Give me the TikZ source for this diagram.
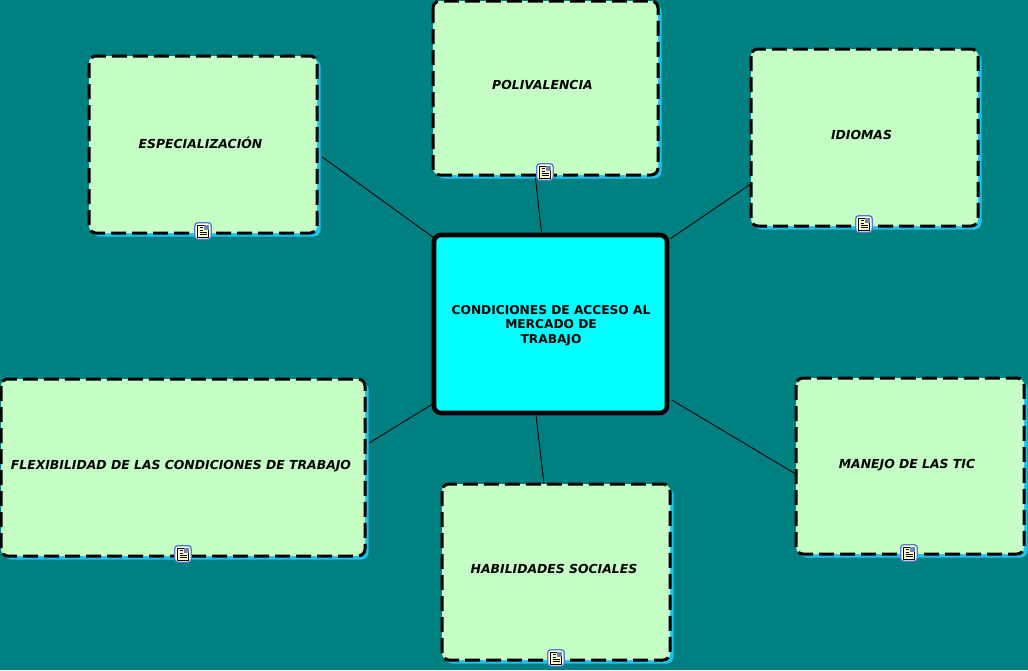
\documentclass[tikz,border=0pt]{standalone}
\usepackage{fontspec}
\setmainfont{DejaVu Sans}
\definecolor{bgteal}{HTML}{008080}
\definecolor{boxgreen}{HTML}{C6FFC6}
\definecolor{shadowblue}{HTML}{19C5F0}
\definecolor{mainshadow}{HTML}{3366CC}
\definecolor{maincyan}{HTML}{00FFFF}
\definecolor{iconblue}{HTML}{5078C8}
\definecolor{iconpaper}{HTML}{FFFFC8}
\definecolor{iconpic}{HTML}{7088A8}
\tikzset{
  x=1pt,y=-1pt,
  topicbox/.style={draw=none,inner sep=0pt},
  link/.style={draw=black,line width=0.9pt},
  toplabel/.style={font=\bfseries\itshape\fontsize{12.4}{14}\selectfont,text=black,align=center},
  mainlabel/.style={font=\bfseries\fontsize{12.2}{14.5}\selectfont,text=black,align=center},
}
\newcommand{\topicrect}[5]{%
  \fill[shadowblue,rounded corners=7pt] (#2+3.5,#3+3.5) rectangle (#4+3.5,#5+3.5);
  \fill[boxgreen,rounded corners=7pt] (#2,#3) rectangle (#4,#5);
  \draw[black,line width=3pt,rounded corners=7pt,dash pattern=on 15pt off 6pt] (#2,#3) rectangle (#4,#5);
  \node[topicbox,minimum width={#4-#2},minimum height={#5-#3}] (#1) at ({(#2+#4)/2},{(#3+#5)/2}) {};
}
\newcommand{\noteicon}[3]{%
  \node[inner sep=0pt,minimum size=16.5pt,draw=iconblue,fill=white,line width=1.3pt,rounded corners=3pt] (#1) at (#2,#3) {};
  \fill[iconpaper,draw=black,line width=0.8pt] (#2-5.5,#3-6) rectangle (#2+5.5,#3+6);
  \fill[iconpic] (#2+0.5,#3-6) rectangle (#2+5.5,#3-1.5);
  \foreach \yy in {-3.5,-1,1.5,3.5}{\draw[black,line width=0.8pt] (#2-3.5,#3+\yy) -- (#2+\ifdim\yy pt<-0.5pt 0\else 3.5\fi,#3+\yy);}
}
\begin{document}
\begin{tikzpicture}
\useasboundingbox (0,0) rectangle (1028,670);
\fill[bgteal] (0,0) rectangle (1028,670);

\topicrect{espec}{89}{56}{317}{233}
\topicrect{poli}{433}{1}{658}{175}
\topicrect{idiomas}{751}{49}{978}{226}
\topicrect{flex}{1}{379}{365}{556}
\topicrect{habil}{442}{484}{670}{660}
\topicrect{manejo}{796}{378}{1024}{554}

\fill[mainshadow,rounded corners=7pt] (437,238) rectangle (669.5,415.5);
\node[draw=black,fill=maincyan,line width=4.6pt,rounded corners=7pt,minimum width=233pt,minimum height=178pt,inner sep=0pt] (main) at (550.5,324) {};

\draw[link] ([xshift=5pt,yshift=-12.5pt]espec.east) -- ([xshift=2pt,yshift=-5pt]main.north west);
\draw[link] ([xshift=-10pt,yshift=-3pt]poli.south) -- ([xshift=-9pt]main.north);
\draw[link] ([yshift=-46.5pt]idiomas.west) -- ([xshift=1pt,yshift=-6pt]main.north east);
\draw[link] ([xshift=4pt,yshift=24.5pt]flex.east) -- ([xshift=2pt,yshift=12pt]main.south west);
\draw[link] ([xshift=-14.5pt]main.south) -- ([xshift=-12pt]habil.north);
\draw[link] ([xshift=3pt,yshift=15pt]main.south east) -- ([yshift=-8pt]manejo.west);

\node[toplabel] (tespec) at (200.5,142.5) {ESPECIALIZACIÓN};
\node[toplabel] (tpoli) at (542.5,84.5) {POLIVALENCIA};
\node[toplabel] (tidiomas) at (861.5,134.5) {IDIOMAS};
\node[toplabel] (tflex) at (181,466) {FLEXIBILIDAD DE LAS CONDICIONES DE TRABAJO};
\node[toplabel] (thabil) at (554,568.5) {HABILIDADES SOCIALES};
\node[toplabel] (tmanejo) at (907,465) {MANEJO DE LAS TIC};
\node[mainlabel] (tmain) at (551,325.5) {CONDICIONES DE ACCESO AL\\MERCADO DE\\TRABAJO};

\noteicon{ia}{203}{231}
\noteicon{ib}{545}{172}
\noteicon{ic}{864}{224}
\noteicon{id}{183}{554}
\noteicon{ie}{556}{658}
\noteicon{if}{909}{553}
\end{tikzpicture}
\end{document}
